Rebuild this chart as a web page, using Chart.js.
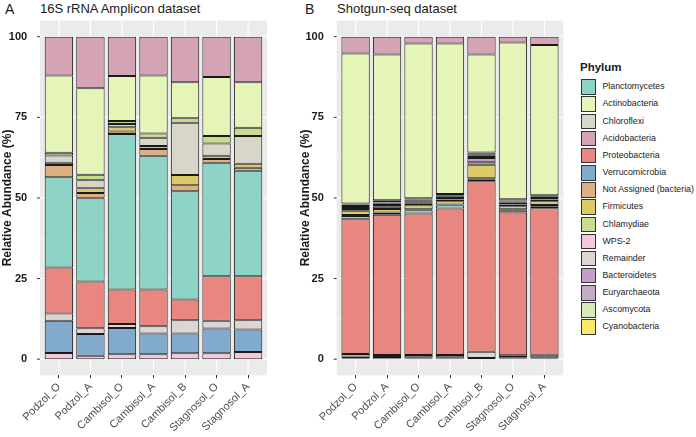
<!DOCTYPE html>
<html>
<head>
<meta charset="utf-8">
<script src="https://cdn.jsdelivr.net/npm/chart.js@4.4.0/dist/chart.umd.min.js"></script>
<style>
  body { margin: 0; background: #fff; width: 696px; height: 437px; overflow: hidden; position: relative;
         font-family: "Liberation Sans", Arial, sans-serif; color: #1a1a1a; }
  canvas { position: absolute; top: 0; }
  .tag { position: absolute; font-size: 14px; line-height: 14px; }
  .ttl { position: absolute; font-size: 13px; line-height: 13px; }
  #legend { position: absolute; left: 580px; top: 0; }
  #legend .head { position: absolute; left: 0; top: 60.5px; font-size: 11.5px; font-weight: bold; white-space: nowrap; }
  #legend .key { position: absolute; left: 0.5px; width: 15.5px; height: 15.5px; box-sizing: border-box; border: 1px solid #333; }
  #legend .lab { position: absolute; left: 22.5px; font-size: 8.8px; line-height: 15.5px; white-space: nowrap; }
</style>
</head>
<body>
<div class="tag" style="left:5px; top:2px;">A</div>
<div class="ttl" style="left:40px; top:2px;">16S rRNA Amplicon dataset</div>
<div class="tag" style="left:305px; top:2px;">B</div>
<div class="ttl" style="left:337px; top:2px;">Shotgun-seq dataset</div>
<canvas id="ampChart" width="280" height="437" style="left:0px"></canvas>
<canvas id="sgChart" width="290" height="437" style="left:280px"></canvas>
<div id="legend"></div>
<script>
// echantillons
const samples = ['Podzol_O', 'Podzol_A', 'Cambisol_O', 'Cambisol_A', 'Cambisol_B', 'Stagnosol_O', 'Stagnosol_A'];
const yTicks = [0, 25, 50, 75, 100];
const yMinor = [12.5, 37.5, 62.5, 87.5];

// ordre de la legende
const legendOrder = ['Planctomycetes', 'Actinobacteria', 'Chloroflexi', 'Acidobacteria', 'Proteobacteria',
  'Verrucomicrobia', 'Not Assigned (bacteria)', 'Firmicutes', 'Chlamydiae', 'WPS-2', 'Remainder',
  'Bacteroidetes', 'Euryarchaeota', 'Ascomycota', 'Cyanobacteria'];

// ordre d'empilement (du bas vers le haut)
const stackOrder = ['WPS-2', 'Verrucomicrobia', 'Remainder', 'Proteobacteria', 'Planctomycetes',
  'Not Assigned (bacteria)', 'Firmicutes', 'Euryarchaeota', 'Bacteroidetes', 'Cyanobacteria',
  'Chloroflexi', 'Chlamydiae', 'Ascomycota', 'Actinobacteria', 'Acidobacteria'];

const phylumColors = {
  'Planctomycetes': '#8ED4C6',
  'Actinobacteria': '#E5F4B7',
  'Chloroflexi': '#D8D6C8',
  'Acidobacteria': '#D4A4B5',
  'Proteobacteria': '#E8877F',
  'Verrucomicrobia': '#82AACD',
  'Not Assigned (bacteria)': '#DDAF82',
  'Firmicutes': '#DDCA66',
  'Chlamydiae': '#C7DC8E',
  'WPS-2': '#F6C8E0',
  'Remainder': '#DBD5D6',
  'Bacteroidetes': '#C79CC8',
  'Euryarchaeota': '#C4AAC3',
  'Ascomycota': '#D7EBB6',
  'Cyanobacteria': '#F9E86C'
};

// A : 16S rRNA amplicon (%)
const ampWPS2        = [1.9, 1.1, 1.5, 1.5, 1.8, 1.8, 2.2];
const ampVerruco     = [10.0, 6.7, 8.2, 6.5, 6.2, 7.7, 7.0];
const ampRemainder   = [2.3, 1.8, 1.2, 2.2, 4.1, 2.4, 2.9];
const ampProteo      = [14.2, 14.5, 10.7, 11.4, 6.4, 13.8, 13.6];
const ampPlancto     = [28.0, 25.8, 48.2, 41.5, 33.6, 35.2, 32.7];
const ampNotAssigned = [3.8, 1.6, 0.8, 2.1, 1.8, 1.2, 1.0];
const ampFirmicutes  = [0.7, 1.5, 1.3, 0.9, 3.2, 1.0, 1.2];
const ampChloroflexi = [2.3, 2.5, 1.0, 2.6, 16.2, 3.8, 8.6];
const ampChlamydiae  = [0.8, 1.7, 1.0, 1.3, 1.4, 2.3, 2.6];
const ampActino      = [24.0, 26.8, 13.9, 18.0, 11.2, 18.3, 14.1];
const ampAcido       = [12.0, 16.0, 12.2, 12.0, 14.1, 12.5, 14.1];

// B : shotgun (%)
const sgWPS2        = [0.2, 0.2, 0.2, 0.2, 0, 0.2, 0.2];
const sgVerruco     = [0.6, 0.5, 0.4, 0.4, 0.4, 0.4, 0.4];
const sgRemainder   = [0.8, 0.6, 0.7, 0.7, 1.9, 0.6, 0.8];
const sgProteo      = [41.8, 43.5, 43.9, 45.4, 52.9, 44.3, 45.4];
const sgPlancto     = [1.0, 0.5, 1.0, 1.0, 0.6, 0.7, 0.6];
const sgNotAssigned = [0.3, 0.2, 0.3, 0.3, 0.3, 0.3, 0.4];
const sgFirmicutes  = [1.3, 1.1, 1.2, 1.0, 4.2, 0.9, 1.2];
const sgEury        = [0.6, 0.7, 0.5, 0.5, 0.8, 0.6, 0.5];
const sgBact        = [0.6, 0.5, 0.5, 0.5, 1.3, 0.5, 0.5];
const sgCyano       = [0.3, 0.4, 0.3, 0.4, 0.3, 0.4, 0.3];
const sgChloroflexi = [0.3, 0.3, 0.3, 0.3, 0.4, 0.3, 0.2];
const sgChlamydiae  = [0.2, 0.2, 0.2, 0.2, 0.3, 0.2, 0.1];
const sgAsco        = [0.3, 0.6, 0.4, 0.3, 0.7, 0.2, 0.2];
const sgActino      = [46.5, 45.2, 48.0, 46.7, 30.4, 48.6, 46.6];
const sgAcido       = [5.2, 5.5, 2.1, 2.1, 5.5, 1.8, 2.6];

const ampData = {
  'WPS-2': ampWPS2, 'Verrucomicrobia': ampVerruco, 'Remainder': ampRemainder,
  'Proteobacteria': ampProteo, 'Planctomycetes': ampPlancto, 'Not Assigned (bacteria)': ampNotAssigned,
  'Firmicutes': ampFirmicutes, 'Chloroflexi': ampChloroflexi, 'Chlamydiae': ampChlamydiae,
  'Actinobacteria': ampActino, 'Acidobacteria': ampAcido
};
const sgData = {
  'WPS-2': sgWPS2, 'Verrucomicrobia': sgVerruco, 'Remainder': sgRemainder,
  'Proteobacteria': sgProteo, 'Planctomycetes': sgPlancto, 'Not Assigned (bacteria)': sgNotAssigned,
  'Firmicutes': sgFirmicutes, 'Euryarchaeota': sgEury, 'Bacteroidetes': sgBact,
  'Cyanobacteria': sgCyano, 'Chloroflexi': sgChloroflexi, 'Chlamydiae': sgChlamydiae,
  'Ascomycota': sgAsco, 'Actinobacteria': sgActino, 'Acidobacteria': sgAcido
};

const FONT = '"Liberation Sans", Arial, sans-serif';

// fond gris facon ggplot + grilles + petits traits de l'axe y
const panelBg = {
  id: 'panelBg',
  beforeDraw(chart) {
    const { ctx, chartArea: a, scales: { x, y } } = chart;
    const ext = (a.right - a.left) / samples.length * 0.1;
    const l = a.left - ext, r = a.right + ext;
    ctx.save();
    ctx.fillStyle = '#EBEBEB';
    ctx.fillRect(l, a.top, r - l, a.bottom - a.top);
    ctx.strokeStyle = '#FFFFFF';
    ctx.lineWidth = 0.55;
    yMinor.forEach(v => {
      const py = y.getPixelForValue(v);
      ctx.beginPath(); ctx.moveTo(l, py); ctx.lineTo(r, py); ctx.stroke();
    });
    ctx.lineWidth = 1.1;
    yTicks.forEach(v => {
      const py = y.getPixelForValue(v);
      ctx.beginPath(); ctx.moveTo(l, py); ctx.lineTo(r, py); ctx.stroke();
    });
    samples.forEach((s, i) => {
      const px = x.getPixelForValue(i);
      ctx.beginPath(); ctx.moveTo(px, a.top); ctx.lineTo(px, a.bottom); ctx.stroke();
    });
    ctx.strokeStyle = '#333333';
    ctx.lineWidth = 1;
    yTicks.forEach(v => {
      const py = y.getPixelForValue(v);
      ctx.beginPath(); ctx.moveTo(l - 3, py); ctx.lineTo(l, py); ctx.stroke();
    });
    ctx.restore();
  }
};

function makeChart(id, table, leftW, rightPad, titlePad) {
  const datasets = stackOrder.filter(p => table[p]).map(p => ({
    label: p,
    data: table[p].map(v => v > 0 ? v : null),
    backgroundColor: phylumColors[p],
    borderColor: '#1A1A1A',
    borderWidth: 1,
    borderSkipped: false
  }));
  return new Chart(document.getElementById(id), {
    type: 'bar',
    data: { labels: samples, datasets: datasets },
    plugins: [panelBg],
    options: {
      responsive: false,
      animation: false,
      layout: { padding: { left: 0, right: rightPad, top: 20.6, bottom: 0 } },
      plugins: { legend: { display: false }, tooltip: { enabled: false } },
      datasets: { bar: { categoryPercentage: 1, barPercentage: 0.9 } },
      scales: {
        x: {
          stacked: true,
          offset: true,
          border: { display: false },
          grid: { offset: false, drawOnChartArea: false, tickColor: '#333333', tickLength: 3, lineWidth: 1 },
          ticks: { color: '#4D4D4D', font: { family: FONT, size: 11 }, minRotation: 45, maxRotation: 45, autoSkip: false, padding: 2 },
          afterFit(s) { s.height = 437 - 375.3; }
        },
        y: {
          stacked: true,
          min: -5,
          max: 105,
          afterBuildTicks(s) { s.ticks = yTicks.map(v => ({ value: v })); },
          border: { display: false },
          grid: { display: false },
          ticks: { color: '#1A1A1A', font: { family: FONT, size: 11, weight: 'bold' }, padding: 8 },
          title: { display: true, text: 'Relative Abundance (%)', color: '#1A1A1A',
                   font: { family: FONT, size: 12, weight: 'bold' }, padding: { top: titlePad, bottom: 0 } },
          afterFit(s) { s.width = leftW; }
        }
      }
    }
  });
}

makeChart('ampChart', ampData, 43.15, 280 - 263.85, 0);
makeChart('sgChart', sgData, 59.85, 290 - 280.15, 18);

// legende en HTML
const leg = document.getElementById('legend');
let html = '<div class="head">Phylum</div>';
legendOrder.forEach((p, i) => {
  const top = 79.3 + i * 17.15;
  html += '<div class="key" style="top:' + top + 'px;background:' + phylumColors[p] + '"></div>';
  html += '<div class="lab" style="top:' + top + 'px">' + p + '</div>';
});
leg.innerHTML = html;
</script>
</body>
</html>
